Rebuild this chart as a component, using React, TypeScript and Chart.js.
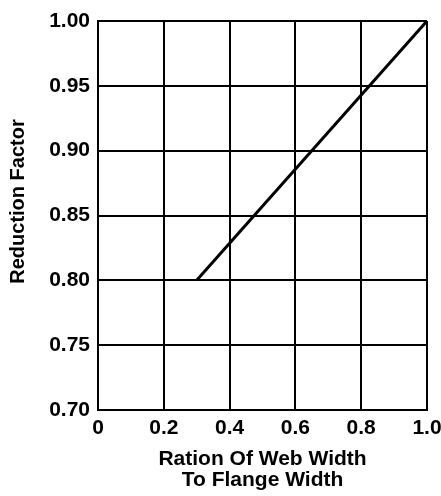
import React, { useEffect, useRef } from "react";
import { Chart, registerables } from "chart.js";

Chart.register(...registerables);

const ratioValues = [0.3, 1.0];
const reductionValues = [0.8, 1.0];
const xTitleLines = ["Ration Of Web Width", "To Flange Width"];
const yTitle = "Reduction Factor";

const FONT = "'Liberation Sans', Arial, Helvetica, sans-serif";

const yTitlePlugin = {
  id: "yTitlePlugin",
  afterDraw(chart: any) {
    const ctx = chart.ctx;
    ctx.save();
    ctx.translate(18, 201.5);
    ctx.rotate(-Math.PI / 2);
    ctx.font = `bold 20px ${FONT}`;
    ctx.fillStyle = "#000";
    ctx.textAlign = "center";
    ctx.textBaseline = "middle";
    ctx.fillText(yTitle, 0, 0);
    ctx.restore();
  },
};

export default function App() {
  const ref = useRef<HTMLCanvasElement | null>(null);
  useEffect(() => {
    if (!ref.current) return;
    const chart = new Chart(ref.current, {
      type: "scatter",
      data: {
        datasets: [
          {
            data: ratioValues.map((x, i) => ({ x, y: reductionValues[i] })),
            showLine: true,
            borderColor: "#000",
            backgroundColor: "#000",
            borderWidth: 3,
            pointRadius: 0,
            clip: false as any,
          },
        ],
      },
      plugins: [yTitlePlugin],
      options: {
        animation: false,
        responsive: true,
        maintainAspectRatio: false,
        layout: { padding: 0 },
        plugins: { legend: { display: false }, tooltip: { enabled: false } },
        scales: {
          x: {
            type: "linear",
            min: 0,
            max: 1,
            afterFit: (s: any) => {
              s.height = 86;
              s.paddingRight = 14;
              s.paddingLeft = 0;
            },
            ticks: {
              stepSize: 0.2,
              color: "#000",
              padding: 6,
              maxRotation: 0,
              font: { family: FONT, size: 21, weight: "bold" },
              callback: (v: any) => (Number(v) === 0 ? "0" : Number(v).toFixed(1)),
            },
            grid: { color: "#000", lineWidth: 2, drawTicks: false },
            border: { color: "#000", width: 2 },
            title: {
              display: true,
              text: xTitleLines,
              color: "#000",
              font: { family: FONT, size: 21, weight: "bold", lineHeight: 1.0 },
              padding: { top: 4, bottom: 5 },
            },
          },
          y: {
            type: "linear",
            min: 0.7,
            max: 1.0,
            afterFit: (s: any) => {
              s.width = 98;
              s.paddingTop = 21;
              s.paddingBottom = 0;
            },
            ticks: {
              stepSize: 0.05,
              color: "#000",
              padding: 8,
              font: { family: FONT, size: 21, weight: "bold" },
              callback: (v: any) => Number(v).toFixed(2),
            },
            grid: { color: "#000", lineWidth: 2, drawTicks: false },
            border: { color: "#000", width: 2 },
            title: { display: false },
          },
        },
      },
    });
    return () => chart.destroy();
  }, []);
  return (
    <div style={{ position: "absolute", left: 0, top: 0, width: 441, height: 496, background: "#fff" }}>
      <canvas ref={ref} />
    </div>
  );
}
